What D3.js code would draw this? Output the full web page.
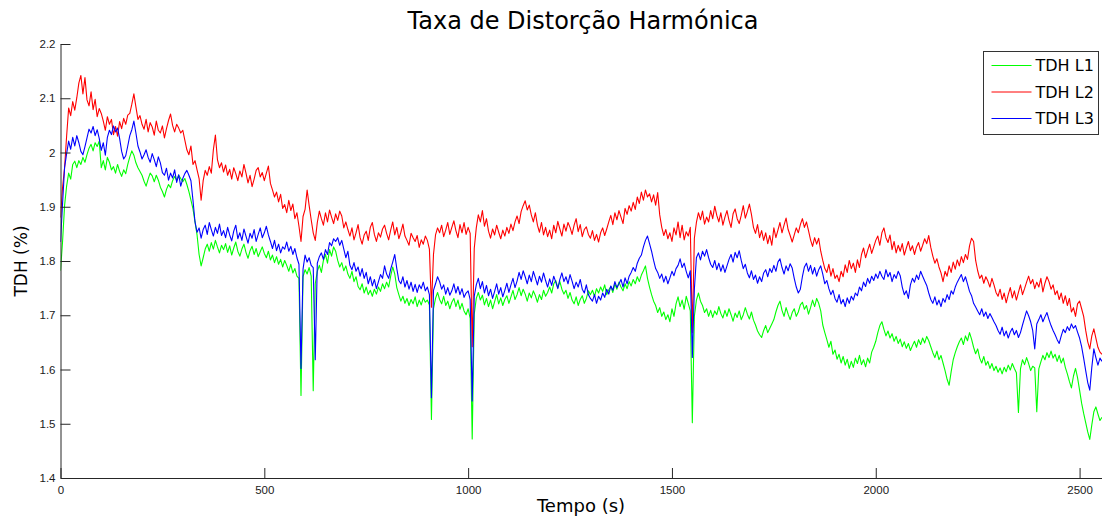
<!DOCTYPE html>
<html>
<head>
<meta charset="utf-8">
<script src="https://cdn.jsdelivr.net/npm/d3@7"></script>
<style>
  html, body { margin: 0; padding: 0; background: #fff; }
  svg { display: block; }
</style>
</head>
<body>
<div id="chart"></div>
<script>
// Harmonic distortion (THD %) per line, sampled every 5 s
const seriesNames = ["TDH L1", "TDH L2", "TDH L3"];
const seriesColors = ["#00ff00", "#ff0000", "#0000ff"];
const xTicks = [0, 500, 1000, 1500, 2000, 2500];
const yTicks = [1.4, 1.5, 1.6, 1.7, 1.8, 1.9, 2.0, 2.1, 2.2];
const sampleStep = 5;

const tdhL1 = [
  1.782,1.835,1.902,1.938,1.962,1.951,1.978,1.984,1.972,1.985,1.978,1.991,1.982,1.996,2.008,2.015,2.003,2.018,2.011,2.021,
  1.972,1.985,1.968,1.991,1.982,1.968,1.974,1.962,1.978,1.965,1.956,1.968,1.961,1.978,1.992,2.003,1.995,1.981,1.972,1.965,
  1.958,1.947,1.938,1.951,1.962,1.957,1.946,1.958,1.949,1.936,1.928,1.918,1.932,1.941,1.935,1.948,1.956,1.949,1.958,1.952,
  1.946,1.952,1.941,1.928,1.912,1.896,1.872,1.848,1.812,1.791,1.806,1.822,1.831,1.818,1.834,1.822,1.838,1.826,1.815,1.829,
  1.821,1.832,1.816,1.828,1.811,1.824,1.835,1.818,1.809,1.822,1.831,1.816,1.805,1.819,1.827,1.812,1.823,1.808,1.817,1.826,
  1.814,1.806,1.818,1.802,1.811,1.797,1.808,1.794,1.803,1.789,1.801,1.792,1.781,1.794,1.778,1.786,1.772,1.768,1.552,1.771,
  1.784,1.776,1.788,1.772,1.561,1.758,1.781,1.792,1.779,1.801,1.812,1.796,1.821,1.809,1.826,1.818,1.801,1.789,1.797,1.782,
  1.791,1.776,1.768,1.781,1.762,1.771,1.753,1.747,1.758,1.741,1.752,1.738,1.746,1.735,1.748,1.739,1.752,1.744,1.758,1.749,
  1.761,1.752,1.772,1.789,1.776,1.751,1.738,1.726,1.735,1.722,1.731,1.718,1.729,1.721,1.734,1.716,1.728,1.719,1.732,1.724,
  1.728,1.719,1.508,1.712,1.731,1.742,1.729,1.721,1.735,1.718,1.726,1.712,1.724,1.731,1.716,1.728,1.711,1.722,1.708,1.701,
  1.712,1.694,1.472,1.702,1.731,1.742,1.728,1.737,1.719,1.731,1.716,1.728,1.712,1.725,1.738,1.721,1.732,1.718,1.729,1.736,
  1.722,1.734,1.746,1.729,1.738,1.751,1.736,1.748,1.739,1.726,1.741,1.732,1.745,1.736,1.724,1.738,1.729,1.746,1.735,1.742,
  1.752,1.741,1.758,1.764,1.751,1.762,1.748,1.739,1.746,1.731,1.742,1.728,1.721,1.734,1.718,1.729,1.736,1.722,1.731,1.745,
  1.738,1.746,1.735,1.749,1.741,1.752,1.744,1.756,1.738,1.747,1.753,1.742,1.758,1.748,1.761,1.752,1.745,1.758,1.749,1.762,
  1.754,1.766,1.758,1.771,1.762,1.774,1.782,1.791,1.768,1.752,1.738,1.726,1.718,1.705,1.714,1.698,1.706,1.692,1.701,1.688,
  1.712,1.698,1.721,1.734,1.716,1.728,1.711,1.735,1.722,1.708,1.502,1.698,1.728,1.741,1.726,1.718,1.705,1.712,1.698,1.709,
  1.696,1.708,1.701,1.716,1.703,1.695,1.709,1.698,1.712,1.701,1.689,1.704,1.696,1.708,1.692,1.701,1.714,1.702,1.693,1.706,
  1.691,1.682,1.671,1.664,1.659,1.672,1.681,1.668,1.676,1.684,1.692,1.706,1.718,1.726,1.709,1.698,1.714,1.702,1.692,1.705,
  1.712,1.698,1.706,1.719,1.724,1.711,1.718,1.702,1.714,1.728,1.716,1.731,1.722,1.708,1.682,1.668,1.655,1.641,1.652,1.628,
  1.636,1.619,1.628,1.612,1.624,1.608,1.619,1.602,1.615,1.604,1.621,1.611,1.626,1.609,1.618,1.605,1.621,1.612,1.632,1.641,
  1.652,1.668,1.681,1.688,1.674,1.662,1.671,1.658,1.666,1.652,1.661,1.648,1.656,1.642,1.651,1.639,1.648,1.635,1.644,1.652,
  1.641,1.655,1.646,1.658,1.649,1.661,1.653,1.642,1.631,1.622,1.634,1.618,1.626,1.612,1.598,1.582,1.571,1.596,1.618,1.631,
  1.642,1.651,1.658,1.646,1.662,1.653,1.668,1.656,1.641,1.629,1.638,1.621,1.612,1.624,1.608,1.615,1.602,1.611,1.598,1.606,
  1.595,1.603,1.592,1.604,1.596,1.608,1.599,1.611,1.602,1.594,1.521,1.601,1.618,1.609,1.622,1.611,1.598,1.606,1.603,1.522,
  1.601,1.614,1.626,1.618,1.631,1.622,1.634,1.621,1.628,1.615,1.626,1.612,1.621,1.604,1.592,1.578,1.566,1.588,1.602,1.585,
  1.562,1.538,1.519,1.502,1.485,1.471,1.498,1.522,1.531,1.518,1.506,1.512
];

const tdhL2 = [
  1.880,1.935,1.972,2.030,2.082,2.068,2.094,2.078,2.101,2.128,2.142,2.108,2.138,2.097,2.086,2.112,2.079,2.098,2.066,2.081,
  2.072,2.058,2.041,2.066,2.052,2.061,2.033,2.048,2.030,2.057,2.044,2.063,2.052,2.069,2.072,2.089,2.108,2.084,2.061,2.068,
  2.052,2.043,2.061,2.038,2.055,2.047,2.032,2.058,2.041,2.036,2.049,2.027,2.044,2.059,2.071,2.050,2.038,2.052,2.045,2.036,
  2.041,2.023,2.005,1.996,2.012,1.978,1.985,1.968,1.952,1.912,1.948,1.967,1.958,1.974,1.962,2.005,2.032,1.987,1.972,1.981,
  1.964,1.977,1.958,1.969,1.951,1.972,1.961,1.948,1.966,1.955,1.978,1.962,1.944,1.958,1.937,1.951,1.967,1.972,1.955,1.963,
  1.948,1.962,1.975,1.943,1.931,1.918,1.927,1.909,1.923,1.897,1.904,1.889,1.912,1.893,1.905,1.878,1.889,1.864,1.836,1.882,
  1.895,1.931,1.902,1.876,1.852,1.838,1.871,1.892,1.878,1.866,1.889,1.872,1.894,1.881,1.869,1.887,1.875,1.892,1.883,1.861,
  1.872,1.858,1.846,1.861,1.839,1.852,1.867,1.843,1.831,1.848,1.855,1.838,1.862,1.871,1.849,1.836,1.852,1.844,1.859,1.866,
  1.851,1.839,1.857,1.872,1.848,1.862,1.841,1.853,1.868,1.846,1.838,1.829,1.851,1.843,1.836,1.847,1.825,1.839,1.831,1.846,
  1.838,1.822,1.715,1.812,1.848,1.861,1.852,1.866,1.845,1.857,1.871,1.849,1.862,1.874,1.856,1.843,1.867,1.852,1.871,1.849,
  1.862,1.851,1.642,1.823,1.861,1.885,1.872,1.893,1.864,1.878,1.855,1.842,1.859,1.848,1.866,1.853,1.841,1.857,1.846,1.862,
  1.851,1.868,1.856,1.872,1.883,1.869,1.891,1.902,1.911,1.894,1.903,1.885,1.872,1.889,1.866,1.853,1.871,1.848,1.862,1.845,
  1.857,1.841,1.866,1.852,1.873,1.859,1.846,1.868,1.855,1.871,1.862,1.849,1.866,1.878,1.854,1.867,1.845,1.858,1.863,1.849,
  1.842,1.856,1.838,1.849,1.835,1.852,1.861,1.847,1.859,1.872,1.884,1.867,1.889,1.876,1.893,1.881,1.869,1.897,1.886,1.902,
  1.892,1.908,1.895,1.918,1.906,1.927,1.912,1.931,1.918,1.924,1.909,1.922,1.903,1.926,1.885,1.862,1.847,1.858,1.841,1.852,
  1.836,1.861,1.848,1.872,1.843,1.866,1.839,1.854,1.846,1.862,1.668,1.842,1.871,1.889,1.876,1.892,1.868,1.881,1.872,1.893,
  1.878,1.901,1.884,1.872,1.889,1.866,1.881,1.893,1.875,1.862,1.887,1.896,1.878,1.869,1.884,1.902,1.879,1.891,1.905,1.886,
  1.862,1.851,1.867,1.843,1.856,1.838,1.852,1.832,1.847,1.829,1.861,1.843,1.857,1.871,1.852,1.866,1.879,1.858,1.847,1.835,
  1.848,1.861,1.852,1.867,1.878,1.862,1.872,1.856,1.839,1.827,1.843,1.831,1.842,1.818,1.801,1.786,1.779,1.794,1.772,1.786,
  1.768,1.774,1.762,1.781,1.771,1.793,1.779,1.801,1.786,1.796,1.779,1.802,1.788,1.812,1.824,1.806,1.819,1.831,1.814,1.826,
  1.838,1.846,1.829,1.852,1.861,1.843,1.834,1.848,1.821,1.836,1.815,1.829,1.818,1.832,1.811,1.824,1.836,1.819,1.828,1.812,
  1.826,1.834,1.818,1.829,1.841,1.832,1.847,1.825,1.809,1.796,1.804,1.789,1.778,1.762,1.781,1.772,1.791,1.779,1.798,1.785,
  1.802,1.791,1.808,1.797,1.812,1.803,1.828,1.842,1.836,1.801,1.782,1.768,1.774,1.759,1.771,1.763,1.752,1.768,1.756,1.742,
  1.735,1.748,1.729,1.741,1.723,1.738,1.751,1.732,1.745,1.728,1.742,1.756,1.738,1.749,1.761,1.772,1.758,1.766,1.749,1.761,
  1.752,1.768,1.743,1.759,1.771,1.762,1.748,1.756,1.738,1.745,1.729,1.741,1.722,1.736,1.718,1.731,1.706,1.714,1.698,1.721,
  1.726,1.712,1.698,1.672,1.651,1.638,1.662,1.675,1.658,1.641,1.632,1.628
];

const tdhL3 = [
  1.835,1.905,1.972,1.998,2.021,2.006,2.028,2.012,2.031,2.018,2.002,1.996,2.011,2.027,2.043,2.036,2.048,2.031,2.042,2.026,
  2.004,2.018,1.995,2.028,2.041,2.033,2.049,2.038,2.045,2.026,2.002,1.988,1.994,2.012,2.031,2.042,2.058,2.036,2.012,2.001,
  1.988,1.996,2.005,1.991,1.982,1.998,1.987,1.974,1.992,1.981,1.963,1.958,1.971,1.949,1.962,1.953,1.968,1.945,1.959,1.938,
  1.952,1.961,1.967,1.958,1.948,1.912,1.872,1.853,1.861,1.842,1.858,1.866,1.849,1.871,1.858,1.846,1.862,1.851,1.868,1.847,
  1.856,1.843,1.862,1.848,1.837,1.855,1.866,1.841,1.852,1.838,1.859,1.846,1.833,1.851,1.842,1.858,1.836,1.849,1.861,1.843,
  1.852,1.864,1.848,1.836,1.823,1.838,1.819,1.831,1.815,1.826,1.822,1.835,1.818,1.827,1.812,1.823,1.806,1.794,1.602,1.785,
  1.811,1.798,1.806,1.792,1.788,1.618,1.796,1.808,1.815,1.803,1.821,1.812,1.834,1.828,1.841,1.836,1.843,1.829,1.838,1.822,
  1.806,1.818,1.792,1.784,1.797,1.781,1.789,1.772,1.786,1.768,1.779,1.758,1.771,1.754,1.766,1.749,1.762,1.775,1.768,1.791,
  1.776,1.768,1.785,1.798,1.812,1.786,1.764,1.758,1.771,1.752,1.764,1.748,1.761,1.744,1.757,1.742,1.756,1.749,1.761,1.745,
  1.752,1.738,1.548,1.746,1.758,1.771,1.762,1.748,1.756,1.739,1.751,1.737,1.745,1.758,1.741,1.753,1.738,1.749,1.733,1.741,
  1.745,1.729,1.542,1.735,1.756,1.768,1.749,1.762,1.741,1.755,1.736,1.748,1.731,1.744,1.758,1.739,1.751,1.734,1.746,1.759,
  1.742,1.756,1.768,1.751,1.763,1.779,1.766,1.782,1.771,1.758,1.774,1.762,1.781,1.769,1.756,1.772,1.761,1.778,1.764,1.752,
  1.767,1.755,1.772,1.761,1.749,1.766,1.778,1.762,1.771,1.758,1.775,1.763,1.749,1.761,1.752,1.766,1.748,1.741,1.756,1.738,
  1.731,1.726,1.738,1.722,1.735,1.728,1.741,1.733,1.748,1.739,1.754,1.746,1.762,1.751,1.758,1.766,1.752,1.769,1.758,1.772,
  1.779,1.788,1.781,1.796,1.805,1.811,1.826,1.838,1.846,1.832,1.818,1.801,1.786,1.779,1.768,1.776,1.761,1.772,1.758,1.769,
  1.781,1.773,1.786,1.792,1.804,1.788,1.796,1.781,1.769,1.782,1.622,1.748,1.806,1.815,1.802,1.818,1.809,1.821,1.806,1.794,
  1.788,1.801,1.784,1.796,1.781,1.793,1.779,1.791,1.803,1.812,1.798,1.816,1.806,1.819,1.801,1.786,1.794,1.778,1.769,1.782,
  1.766,1.774,1.759,1.771,1.762,1.778,1.784,1.771,1.786,1.779,1.792,1.781,1.798,1.804,1.788,1.776,1.791,1.782,1.795,1.787,
  1.768,1.752,1.741,1.748,1.771,1.789,1.796,1.781,1.792,1.776,1.788,1.772,1.784,1.791,1.776,1.758,1.764,1.749,1.738,1.746,
  1.731,1.724,1.738,1.721,1.729,1.716,1.732,1.722,1.735,1.728,1.741,1.736,1.752,1.745,1.761,1.753,1.768,1.759,1.772,1.764,
  1.776,1.768,1.781,1.772,1.766,1.784,1.771,1.779,1.762,1.775,1.768,1.781,1.773,1.752,1.738,1.745,1.731,1.756,1.768,1.761,
  1.774,1.766,1.781,1.772,1.763,1.755,1.741,1.729,1.722,1.734,1.719,1.728,1.716,1.731,1.724,1.738,1.729,1.745,1.739,1.752,
  1.761,1.768,1.775,1.762,1.771,1.758,1.744,1.736,1.722,1.715,1.708,1.701,1.712,1.698,1.706,1.694,1.703,1.696,1.688,1.681,
  1.672,1.665,1.678,1.662,1.671,1.658,1.669,1.676,1.664,1.672,1.659,1.668,1.682,1.695,1.708,1.699,1.688,1.672,1.638,1.684,
  1.692,1.701,1.688,1.697,1.705,1.692,1.681,1.672,1.664,1.655,1.648,1.662,1.674,1.668,1.679,1.672,1.684,1.676,1.681,1.669,
  1.658,1.642,1.621,1.598,1.576,1.562,1.604,1.638,1.622,1.608,1.621,1.615
];

const allSeries = [tdhL1, tdhL2, tdhL3];

const W = 1102, H = 519;
const plot = { left: 60.5, right: 1102, top: 44, bottom: 478 };

const svg = d3.select("#chart").append("svg")
  .attr("width", W).attr("height", H)
  .attr("viewBox", `0 0 ${W} ${H}`);

const x = d3.scaleLinear().domain([0, 2555]).range([plot.left, plot.right]);
const y = d3.scaleLinear().domain([1.4, 2.2]).range([plot.bottom, plot.top]);

// clip lines to the axes box
svg.append("defs").append("clipPath").attr("id", "plotClip")
  .append("rect")
  .attr("x", plot.left).attr("y", plot.top - 2)
  .attr("width", plot.right - plot.left).attr("height", plot.bottom - plot.top + 2);

const line = d3.line()
  .x((d, i) => x(i * sampleStep))
  .y(d => y(d));

const lines = svg.append("g").attr("clip-path", "url(#plotClip)");
allSeries.forEach((s, k) => {
  lines.append("path")
    .datum(s)
    .attr("fill", "none")
    .attr("stroke", seriesColors[k])
    .attr("stroke-width", 1.1)
    .attr("stroke-linejoin", "round")
    .attr("d", line);
});

// axes (ticks pointing inward)
const axisColor = "#262626";
const xAxis = svg.append("g")
  .attr("transform", `translate(0,${plot.bottom})`)
  .call(d3.axisBottom(x).tickValues(xTicks).tickSizeInner(-10).tickSizeOuter(0).tickPadding(6)
    .tickFormat(d3.format("d")));
const yAxis = svg.append("g")
  .attr("transform", `translate(${plot.left},0)`)
  .call(d3.axisLeft(y).tickValues(yTicks).tickSizeInner(-10).tickSizeOuter(0).tickPadding(6)
    .tickFormat(d => (Math.round(d * 10) / 10).toString()));

[xAxis, yAxis].forEach(g => {
  g.select(".domain").attr("stroke", axisColor).attr("stroke-width", 1);
  g.selectAll(".tick line").attr("stroke", axisColor).attr("stroke-width", 1);
  g.selectAll(".tick text")
    .attr("fill", "#1a1a1a")
    .style("font-family", "'Liberation Sans', Arial, sans-serif")
    .style("font-size", "11.5px");
});
xAxis.selectAll(".tick text").attr("dy", "0.9em");
yAxis.selectAll(".tick text").attr("x", -5);

// titles
const labelFont = "'DejaVu Sans', Verdana, sans-serif";
svg.append("text")
  .attr("x", 583).attr("y", 29)
  .attr("text-anchor", "middle")
  .style("font-family", labelFont).style("font-size", "24px")
  .attr("fill", "#000")
  .text("Taxa de Distorção Harmónica");

svg.append("text")
  .attr("x", 581).attr("y", 512)
  .attr("text-anchor", "middle")
  .style("font-family", labelFont).style("font-size", "18px")
  .attr("fill", "#000")
  .text("Tempo (s)");

svg.append("text")
  .attr("transform", `translate(27,${(plot.top + plot.bottom) / 2}) rotate(-90)`)
  .attr("text-anchor", "middle")
  .style("font-family", labelFont).style("font-size", "17px")
  .attr("fill", "#000")
  .text("TDH (%)");

// legend
const legend = svg.append("g").attr("transform", "translate(983.5,51.5)");
legend.append("rect")
  .attr("width", 115).attr("height", 83)
  .attr("fill", "#fff").attr("stroke", "#333").attr("stroke-width", 1);
seriesNames.forEach((name, k) => {
  const cy = 14 + k * 26.5;
  legend.append("line")
    .attr("x1", 8).attr("x2", 48).attr("y1", cy).attr("y2", cy)
    .attr("stroke", seriesColors[k]).attr("stroke-width", 1);
  legend.append("text")
    .attr("x", 52).attr("y", cy).attr("dy", "0.36em")
    .style("font-family", labelFont).style("font-size", "16px")
    .attr("fill", "#000")
    .text(name);
});
</script>
</body>
</html>
